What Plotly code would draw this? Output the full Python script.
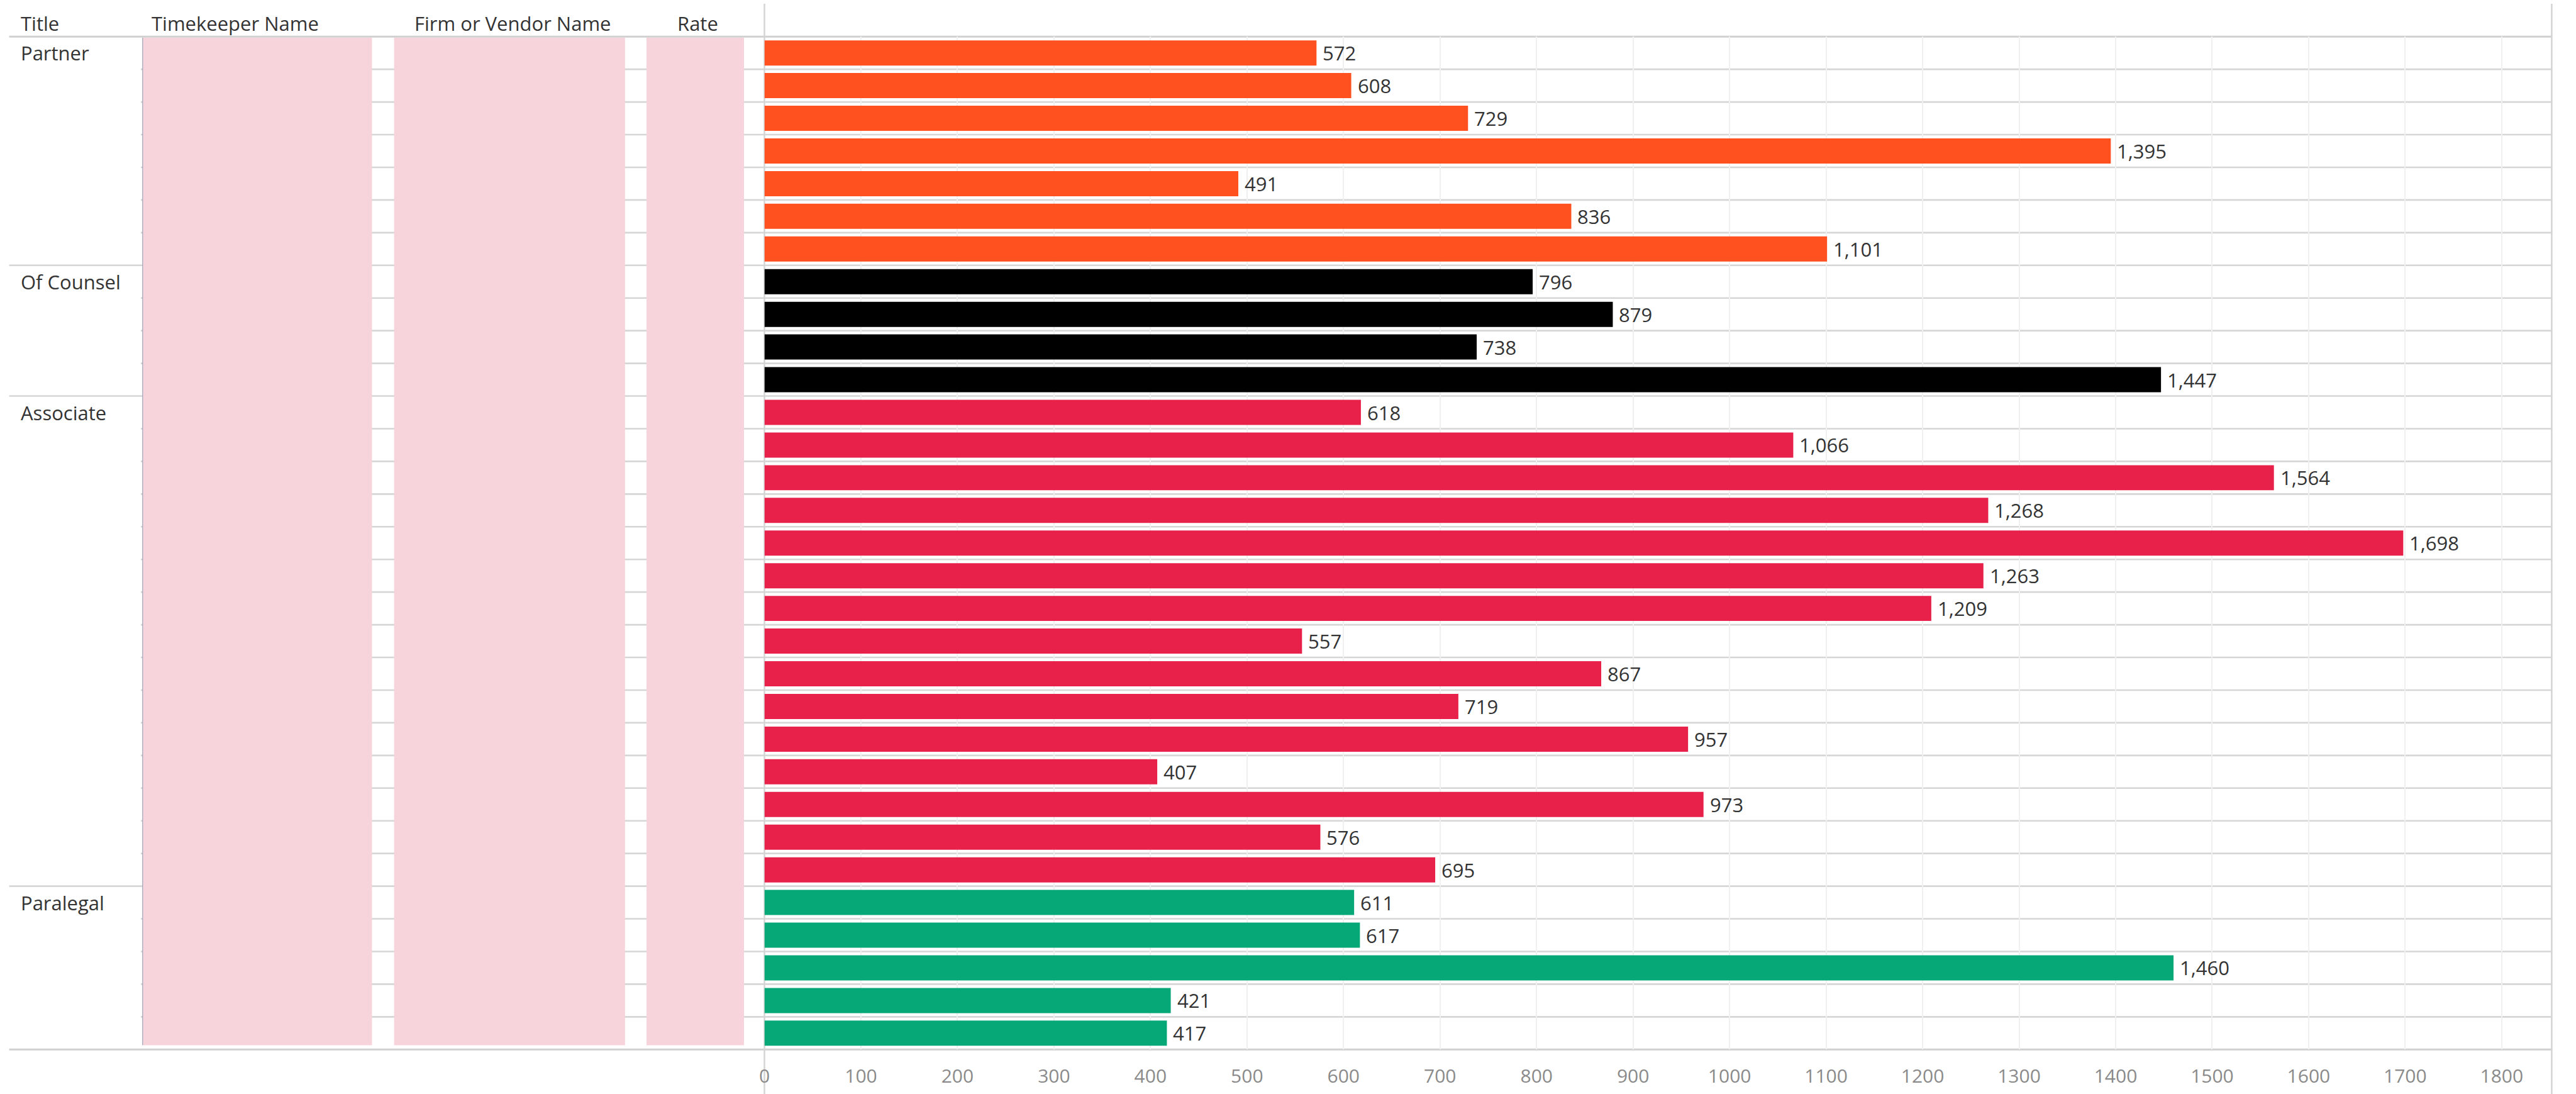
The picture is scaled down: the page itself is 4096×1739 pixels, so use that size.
import plotly.graph_objects as go

# ---------------- data ----------------
titles = (["Partner"] * 7 + ["Of Counsel"] * 4 + ["Associate"] * 15 + ["Paralegal"] * 5)
rates_total = [572, 608, 729, 1395, 491, 836, 1101,
               796, 879, 738, 1447,
               618, 1066, 1564, 1268, 1698, 1263, 1209, 557, 867, 719, 957, 407, 973, 576, 695,
               611, 617, 1460, 421, 417]
group_order = ["Partner", "Of Counsel", "Associate", "Paralegal"]
group_colors = {"Partner": "#FF5020", "Of Counsel": "#000000",
                "Associate": "#E8214B", "Paralegal": "#07A877"}
column_headers = ["Title", "Timekeeper Name", "Firm or Vendor Name", "Rate"]
x_ticks = list(range(0, 1801, 100))

# ---------------- geometry (pixels in the 4096x1739 page) ----------------
W, H = 4096, 1739
plot_left, plot_right = 1215.5, 4057.4
plot_top, plot_bottom = 58.2, 1668.3
px_per_unit = 1.7928 * 0.856
x_max = (plot_right - plot_left) / px_per_unit

def px(x):
    return x / W

def py(y):
    return 1 - y / H

n = len(rates_total)
rows = list(range(n))
colors = [group_colors[t] for t in titles]

fig = go.Figure()
fig.add_trace(go.Bar(
    x=rates_total, y=rows, orientation="h",
    marker=dict(color=colors, line=dict(width=0)),
    width=0.77, hoverinfo="x+y", showlegend=False,
))

font_family = "Open Sans, Lato, DejaVu Sans, sans-serif"
txt_color = "#333333"

shapes = []
line_col = "#D6D6D6"
# group boundary indices
group_starts = [i for i in range(n) if i == 0 or titles[i] != titles[i - 1]]
for b in range(1, n):
    x0 = px(14.6) if b in group_starts else px(224)
    shapes.append(dict(type="line", xref="paper", yref="y", x0=x0, x1=px(plot_right),
                       y0=b - 0.5, y1=b - 0.5, line=dict(color=line_col, width=2.6), layer="below"))
# header and bottom lines
for yy in (plot_top, plot_bottom):
    shapes.append(dict(type="line", xref="paper", yref="paper", x0=px(14.6), x1=px(plot_right),
                       y0=py(yy), y1=py(yy), line=dict(color="#D0D0D0", width=3), layer="below"))
# pink masked columns
for (a, b) in [(226.8, 591.5), (626.6, 993.8), (1028.0, 1183.0)]:
    shapes.append(dict(type="rect", xref="paper", yref="paper", x0=px(a), x1=px(b),
                       y0=py(1661.5), y1=py(60.0), fillcolor="#F7D3DB",
                       line=dict(width=0), layer="below"))
# thin line on left edge of first masked column
shapes.append(dict(type="line", xref="paper", yref="paper", x0=px(226.8), x1=px(226.8),
                   y0=py(1661.5), y1=py(60.0), line=dict(color="#8A9BB0", width=1)))
# vertical divider and right border
for xx in (plot_left, plot_right):
    shapes.append(dict(type="line", xref="paper", yref="paper", x0=px(xx), x1=px(xx),
                       y0=py(6), y1=0, line=dict(color="#D4D4D4", width=2.5), layer="below"))

annotations = []
header_x = [30.8, 238.8, 657.4, 1075.0]
for h, hx in zip(column_headers, header_x):
    annotations.append(dict(text=h, xref="paper", yref="paper", x=px(hx), y=py(36.8),
                            xanchor="left", yanchor="middle", showarrow=False,
                            font=dict(family=font_family, size=31, color=txt_color)))
for gs in group_starts:
    annotations.append(dict(text=titles[gs], xref="paper", yref="y", x=px(30.8), y=gs,
                            xanchor="left", yanchor="middle", showarrow=False,
                            font=dict(family=font_family, size=31, color=txt_color)))
for i, v in enumerate(rates_total):
    annotations.append(dict(text=f"{v:,}", xref="x", yref="y", x=v, y=i,
                            xanchor="left", yanchor="middle", xshift=8, showarrow=False,
                            font=dict(family=font_family, size=31, color=txt_color)))

fig.update_layout(
    width=W, height=H,
    margin=dict(l=0, r=0, t=0, b=0),
    paper_bgcolor="white", plot_bgcolor="white",
    bargap=0.23,
    xaxis=dict(domain=[px(plot_left), px(plot_right)], range=[0, x_max],
               tickmode="array", tickvals=x_ticks, ticktext=[str(t) for t in x_ticks],
               showgrid=True, gridcolor="#F0F0F0", gridwidth=1.5,
               zeroline=False, showline=False, ticks="",
               tickfont=dict(family=font_family, size=30, color="#8A8A8A"),
               ticklabelstandoff=22, automargin=False, fixedrange=True),
    yaxis=dict(domain=[py(plot_bottom), py(plot_top)], range=[n - 0.5, -0.5],
               showticklabels=False, showgrid=False, zeroline=False, showline=False,
               ticks="", automargin=False, fixedrange=True),
    shapes=shapes, annotations=annotations,
    font=dict(family=font_family),
)

fig.write_html("out.html", config={"displayModeBar": False})
